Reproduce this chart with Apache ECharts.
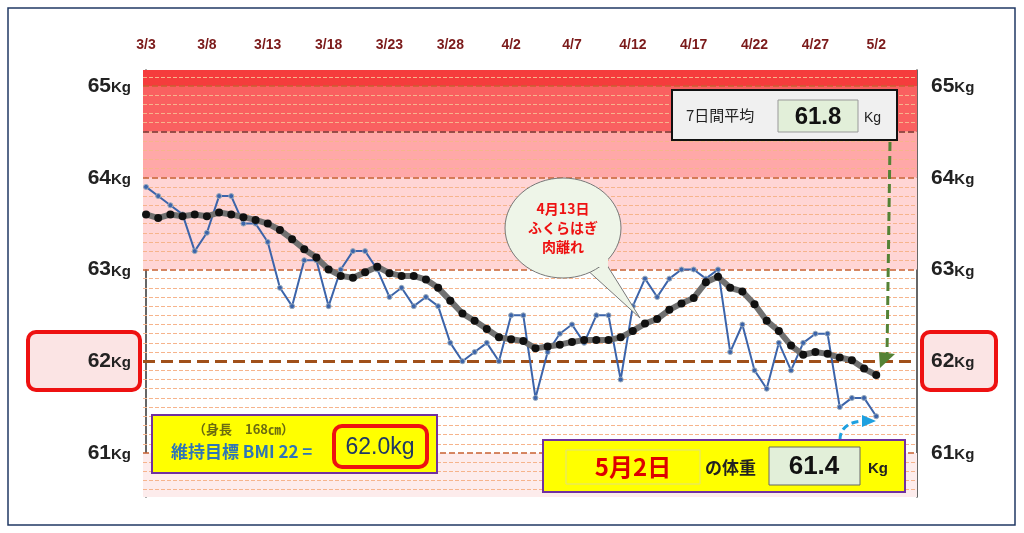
<!DOCTYPE html>
<html><head><meta charset="utf-8">
<script src="https://cdn.jsdelivr.net/npm/echarts@6/dist/echarts.min.js"></script>
<style>html,body{margin:0;padding:0;background:#fff}#c{width:1024px;height:533px}</style>
</head><body><div id="c"></div>
<script>
const dates = ["3/3","3/4","3/5","3/6","3/7","3/8","3/9","3/10","3/11","3/12","3/13","3/14","3/15","3/16","3/17","3/18","3/19","3/20","3/21","3/22","3/23","3/24","3/25","3/26","3/27","3/28","3/29","3/30","3/31","4/1","4/2","4/3","4/4","4/5","4/6","4/7","4/8","4/9","4/10","4/11","4/12","4/13","4/14","4/15","4/16","4/17","4/18","4/19","4/20","4/21","4/22","4/23","4/24","4/25","4/26","4/27","4/28","4/29","4/30","5/1","5/2"];
const weight = [63.9,63.8,63.7,63.6,63.2,63.4,63.8,63.8,63.5,63.5,63.3,62.8,62.6,63.1,63.1,62.6,63.0,63.2,63.2,63.0,62.7,62.8,62.6,62.7,62.6,62.2,62.0,62.1,62.2,62.0,62.5,62.5,61.6,62.1,62.3,62.4,62.2,62.5,62.5,61.8,62.6,62.9,62.7,62.9,63.0,63.0,62.9,63.0,62.1,62.4,61.9,61.7,62.2,61.9,62.2,62.3,62.3,61.5,61.6,61.6,61.4];
const avg7 = [63.6,63.56,63.6,63.58,63.6,63.58,63.62,63.6,63.57,63.54,63.5,63.43,63.33,63.22,63.13,63.0,62.93,62.91,62.97,63.03,62.96,62.93,62.93,62.89,62.8,62.66,62.52,62.44,62.35,62.26,62.24,62.22,62.14,62.16,62.18,62.21,62.23,62.23,62.23,62.26,62.33,62.41,62.46,62.56,62.63,62.69,62.86,62.92,62.8,62.76,62.62,62.44,62.33,62.17,62.07,62.1,62.08,62.04,62.01,61.92,61.85];
const kgTicks = [61,62,63,64,65];

const minor = [];
for (let v = 60.6; v < 65.15; v += 0.1) {
  const r = Math.round(v*10)/10;
  if (Math.abs(r - Math.round(r)) > 0.01) minor.push({yAxis: r, lineStyle:{color:'#f6b48c', width:1}});
}
kgTicks.forEach(k => minor.push({yAxis:k, lineStyle:{color: k===62?'#a0501a':'#c86030', width: k===62?3:1.5}}));
minor.push({yAxis:64.5, lineStyle:{color:'#7a3030', width:1.5}});

const chart = echarts.init(document.getElementById('c'));
const lbl = {
  formatter: v => '{a|' + v + '}{b|Kg}',
  rich: {a:{fontSize:21,fontWeight:'bold',color:'#222',fontFamily:'Liberation Sans'},
         b:{fontSize:15,fontWeight:'bold',color:'#222',fontFamily:'Liberation Sans',padding:[4,0,0,0]}},
  customValues: kgTicks
};
chart.setOption({
  animation:false,
  grid:{left:143,right:107,top:70,bottom:36},
  xAxis:{type:'value',min:-0.25,max:63.35,position:'top',interval:5,
    axisLine:{show:false},axisTick:{show:false},splitLine:{show:false},
    axisLabel:{margin:18,color:'#7b1a1a',fontWeight:'bold',fontSize:14,fontFamily:'Liberation Sans',
      formatter:v=>dates[v]||'', customValues:[0,5,10,15,20,25,30,35,40,45,50,55,60]}},
  yAxis:[
    {type:'value',min:60.52,max:65.174,position:'left',splitLine:{show:false},axisTick:{show:false},
     axisLine:{show:true,lineStyle:{color:'#333',width:1.5}},axisLabel:Object.assign({margin:12},lbl)},
    {type:'value',min:60.52,max:65.174,position:'right',splitLine:{show:false},axisTick:{show:false},
     axisLine:{show:true,lineStyle:{color:'#333',width:1.5}},axisLabel:Object.assign({margin:14},lbl)}
  ],
  graphic:[
    {type:'rect',shape:{x:8,y:8,width:1007,height:517},style:{fill:'none',stroke:'#203864',lineWidth:1.5},z:-10},
    {type:'rect',shape:{x:28,y:332,width:112,height:58,r:8},style:{fill:'#fbe4e4',stroke:'#ee1111',lineWidth:4},z:-5},
    {type:'rect',shape:{x:922,y:332,width:74,height:58,r:8},style:{fill:'#fbe4e4',stroke:'#ee1111',lineWidth:4},z:-5},
    // speech bubble
    {type:'polygon',shape:{points:[[585,268],[640,318],[605,262]]},style:{fill:'#eef5e8',stroke:'#777',lineWidth:1},z:50},
    {type:'ellipse',shape:{cx:563,cy:228,rx:58,ry:50},style:{fill:'#eef5e8',stroke:'#777',lineWidth:1},z:50},
    {type:'rect',shape:{x:590,y:259,width:18,height:8},style:{fill:'#eef5e8'},z:51},
    {type:'text',x:563,y:228,style:{text:'4月13日\nふくらはぎ\n肉離れ',align:'center',verticalAlign:'middle',fill:'#ee1111',font:'bold 14px "Noto Sans CJK JP"',lineHeight:19},z:52},
    // 7-day avg box
    {type:'rect',shape:{x:672,y:90,width:225,height:50},style:{fill:'#f0f0f0',stroke:'#111',lineWidth:2},z:50},
    {type:'text',x:686,y:115,style:{text:'7日間平均',verticalAlign:'middle',fill:'#222',font:'15px "Noto Sans CJK JP"'},z:51},
    {type:'rect',shape:{x:778,y:100,width:80,height:32},style:{fill:'#e2efd9',stroke:'#999',lineWidth:1},z:51},
    {type:'text',x:818,y:117,style:{text:'61.8',align:'center',verticalAlign:'middle',fill:'#111',font:'bold 24px "Liberation Sans Narrow","Liberation Sans"'},z:52},
    {type:'text',x:864,y:118,style:{text:'Kg',verticalAlign:'middle',fill:'#222',font:'14px "Liberation Sans"'},z:51},
    // bottom box
    {type:'rect',shape:{x:543,y:440,width:362,height:52},style:{fill:'#ffff00',stroke:'#7030a0',lineWidth:2},z:50},
    {type:'rect',shape:{x:566,y:450,width:134,height:34},style:{fill:'#ffff00',stroke:'#e0e080',lineWidth:1},z:51},
    {type:'text',x:633,y:467,style:{text:'5月2日',align:'center',verticalAlign:'middle',fill:'#dd0000',font:'bold 24px "Noto Sans CJK JP"'},z:52},
    {type:'text',x:705,y:468,style:{text:'の体重',verticalAlign:'middle',fill:'#222',font:'bold 17px "Noto Sans CJK JP"'},z:52},
    {type:'rect',shape:{x:769,y:447,width:91,height:38},style:{fill:'#e2efd9',stroke:'#666',lineWidth:1},z:51},
    {type:'text',x:814,y:467,style:{text:'61.4',align:'center',verticalAlign:'middle',fill:'#111',font:'bold 26px "Liberation Sans Narrow","Liberation Sans"'},z:52},
    {type:'text',x:868,y:469,style:{text:'Kg',verticalAlign:'middle',fill:'#222',font:'bold 15px "Liberation Sans"'},z:52},
    // BMI box
    {type:'rect',shape:{x:152,y:415,width:285,height:58},style:{fill:'#ffff00',stroke:'#7030a0',lineWidth:2},z:50},
    {type:'text',x:193,y:429,style:{text:'（身長　168㎝）',verticalAlign:'middle',fill:'#6b6b10',font:'bold 13px "Noto Sans CJK JP"'},z:51},
    {type:'text',x:171,y:452,style:{text:'維持目標 BMI 22 =',verticalAlign:'middle',fill:'#2e75b6',font:'bold 17px "Noto Sans CJK JP"'},z:51},
    {type:'rect',shape:{x:334,y:426,width:93,height:41,r:8},style:{fill:'#ffff00',stroke:'#ee1111',lineWidth:4},z:51},
    {type:'text',x:380,y:448,style:{text:'62.0kg',align:'center',verticalAlign:'middle',fill:'#1f3864',font:'23px "Liberation Sans"'},z:52},
    // arrows
    {type:'polyline',shape:{points:[[890,142],[887,355]]},style:{stroke:'#548235',lineWidth:3,lineDash:[9,5]},z:40},
    {type:'polygon',shape:{points:[[879,352],[895,354],[880,368]]},style:{fill:'#548235'},z:40},
    {type:'bezierCurve',shape:{x1:840,y1:440,cpx1:840,cpy1:427,x2:866,y2:421,cpx2:850,cpy2:421},style:{stroke:'#1ea0e0',lineWidth:3,lineDash:[7,4],fill:'none'},z:40},
    {type:'polygon',shape:{points:[[862,415],[876,421],[862,427]]},style:{fill:'#1ea0e0'},z:40}
  ],
  series:[
    {type:'line',data:[],markArea:{silent:true,data:[
      [{yAxis:65,itemStyle:{color:'#f53c3c'}},{yAxis:65.174}],
      [{yAxis:64.5,itemStyle:{color:'#f96060'}},{yAxis:65}],
      [{yAxis:64,itemStyle:{color:'#ffa8a8'}},{yAxis:64.5}],
      [{yAxis:63,itemStyle:{color:'#ffd5d5'}},{yAxis:64}],
      [{yAxis:60.52,itemStyle:{color:'#fdecec'}},{yAxis:61}]
    ]},markLine:{silent:true,symbol:'none',label:{show:false},data:minor},z:1},
    {type:'line',data:weight.map((v,i)=>[i,v]),symbol:'circle',symbolSize:5,
     lineStyle:{color:'#3c64aa',width:2},itemStyle:{color:'#3c64aa',borderColor:'#9ab',borderWidth:1},z:5},
    {type:'line',data:avg7.map((v,i)=>[i,v]),symbol:'circle',symbolSize:8,
     lineStyle:{color:'#707070',width:6},itemStyle:{color:'#111'},z:6}
  ]
});
</script></body></html>
